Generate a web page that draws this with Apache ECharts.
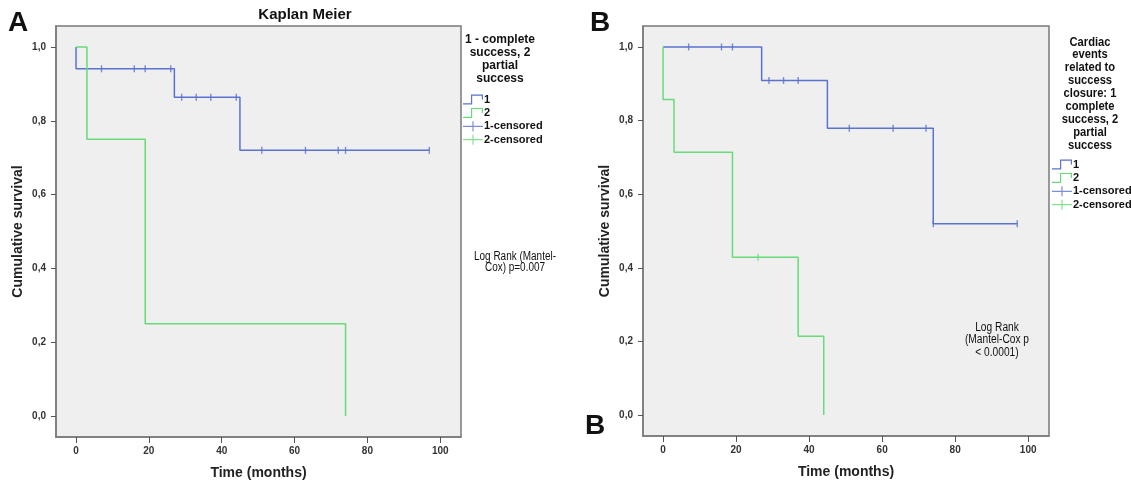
<!DOCTYPE html>
<html><head><meta charset="utf-8">
<script src="https://cdn.jsdelivr.net/npm/echarts@6/dist/echarts.min.js"></script>
<style>html,body{margin:0;padding:0;background:#fff}#c{width:1131px;height:486px}</style>
</head><body><div id="c"></div>
<script>
// ---------- Data ----------
const xTicks = [0, 20, 40, 60, 80, 100];
const yTicks = [0, 0.2, 0.4, 0.6, 0.8, 1.0];
const seriesNames = ['1', '2', '1-censored', '2-censored'];

// Panel A (Kaplan Meier) - group 1 steps
const a1Time = [0, 0, 27, 45, 97];
const a1Surv = [1, 0.941, 0.864, 0.72, 0.72];
// Panel A - group 2 steps
const a2Time = [0, 3, 19, 74];
const a2Surv = [1, 0.75, 0.25, 0];
// Panel A - censored marks group 1
const a1CensTime = [7, 16, 19, 26, 29, 33, 37, 44, 51, 63, 72, 74, 97];
const a1CensSurv = [0.941, 0.941, 0.941, 0.941, 0.864, 0.864, 0.864, 0.864, 0.72, 0.72, 0.72, 0.72, 0.72];

// Panel B - group 1 steps
const b1Time = [0, 27, 45, 74, 97];
const b1Surv = [1, 0.909, 0.779, 0.52, 0.52];
// Panel B - group 2 steps
const b2Time = [0, 0, 3, 19, 37, 44];
const b2Surv = [1, 0.857, 0.714, 0.429, 0.214, 0];
// Panel B - censored marks
const b1CensTime = [7, 16, 19, 29, 33, 37, 51, 63, 72, 74, 97];
const b1CensSurv = [1, 1, 1, 0.909, 0.909, 0.909, 0.779, 0.779, 0.779, 0.52, 0.52];
const b2CensTime = [26];
const b2CensSurv = [0.429];

// ---------- Helpers ----------
const zip = (t, s) => t.map((v, i) => [v, s[i]]);
const BLUE = '#5a72d0', GREEN = '#66db78';
const AX = '#7a7a7a';
const FONT = "'Liberation Sans', Arial, sans-serif";

function xAx(gi) {
  return {
    type: 'value', gridIndex: gi, min: -5.5, max: 105.7,
    name: 'Time (months)', nameLocation: 'middle', nameGap: 29,
    nameTextStyle: { fontFamily: FONT, fontWeight: 'bold', fontSize: 14, color: '#222' },
    splitLine: { show: false },
    axisLine: { show: true, onZero: false, lineStyle: { color: AX, width: 1.5 } },
    axisTick: { show: true, length: 6, customValues: xTicks, lineStyle: { color: '#555' } },
    axisLabel: { customValues: xTicks, margin: 9, fontFamily: FONT, fontWeight: 'bold', fontSize: 10, color: '#333' }
  };
}
function yAx(gi) {
  return {
    type: 'value', gridIndex: gi, min: -0.057, max: 1.057,
    name: 'Cumulative survival', nameLocation: 'middle', nameGap: 31,
    nameTextStyle: { fontFamily: FONT, fontWeight: 'bold', fontSize: 14, color: '#222' },
    splitLine: { show: false },
    axisLine: { show: true, onZero: false, lineStyle: { color: AX, width: 1.5 } },
    axisTick: { show: true, length: 5, customValues: yTicks, lineStyle: { color: '#555' } },
    axisLabel: { customValues: yTicks, margin: 10, fontFamily: FONT, fontWeight: 'bold', fontSize: 10, color: '#333',
      formatter: v => v.toFixed(1).replace('.', ',') }
  };
}
function stepSeries(name, data, color, gi) {
  return { name, type: 'line', step: 'end', data, xAxisIndex: gi, yAxisIndex: gi,
    showSymbol: false, symbol: 'none', lineStyle: { color, width: 1.5 }, itemStyle: { color }, animation: false, z: 3 };
}
function censSeries(name, data, color, gi) {
  return { name, type: 'scatter', data, xAxisIndex: gi, yAxisIndex: gi,
    symbol: 'rect', symbolSize: [1.4, 7], itemStyle: { color }, animation: false, z: 4 };
}
const stepIcon = 'path://M0,8.8 H8 V0 H20 V5 H18.8 V1.2 H9.2 V10 H0 Z';
const plusIcon = 'path://M0,4.4 H20 V5.6 H0 Z M9.4,0 H10.6 V10 H9.4 Z';
function legend(left, top) {
  return {
    orient: 'vertical', left, top, padding: 0, itemWidth: 20, itemHeight: 10, itemGap: 2.4,
    textStyle: { fontFamily: FONT, fontWeight: 'bold', fontSize: 11, color: '#111', padding: [0, 0, 0, -4] },
    selectedMode: false,
    data: [
      { name: '1', icon: stepIcon }, { name: '2', icon: stepIcon },
      { name: '1-censored', icon: plusIcon }, { name: '2-censored', icon: plusIcon }
    ]
  };
}
function txt(text, x, y, font, lh, sx) {
  return { type: 'text', x, y, scaleX: sx || 1,
    style: { text, font, fill: '#111', textAlign: 'center', textVerticalAlign: 'top', lineHeight: lh } };
}

const option = {
  backgroundColor: '#fff',
  animation: false,
  grid: [
    { left: 56, top: 26, width: 405, height: 411, show: true, backgroundColor: '#efefef', borderColor: AX, borderWidth: 1.5 },
    { left: 643, top: 26, width: 406, height: 410, show: true, backgroundColor: '#efefef', borderColor: AX, borderWidth: 1.5 }
  ],
  xAxis: [xAx(0), xAx(1)],
  yAxis: [yAx(0), yAx(1)],
  legend: [legend(463, 94), legend(1052, 159)],
  series: [
    stepSeries('1', zip(a1Time, a1Surv), BLUE, 0),
    stepSeries('2', zip(a2Time, a2Surv), GREEN, 0),
    censSeries('1-censored', zip(a1CensTime, a1CensSurv), BLUE, 0),
    censSeries('2-censored', [], GREEN, 0),
    stepSeries('1', zip(b1Time, b1Surv), BLUE, 1),
    stepSeries('2', zip(b2Time, b2Surv), GREEN, 1),
    censSeries('1-censored', zip(b1CensTime, b1CensSurv), BLUE, 1),
    censSeries('2-censored', zip(b2CensTime, b2CensSurv), GREEN, 1)
  ],
  graphic: [
    txt('A', 18, 8, "bold 28px 'Liberation Sans', Arial, sans-serif", 30),
    txt('B', 600, 8, "bold 28px 'Liberation Sans', Arial, sans-serif", 30),
    txt('B', 595, 411, "bold 28px 'Liberation Sans', Arial, sans-serif", 30),
    txt('Kaplan Meier', 305, 6, "bold 15px 'Liberation Sans', Arial, sans-serif", 18),
    txt('1 - complete\nsuccess, 2\npartial\nsuccess', 500, 33, "bold 12px 'Liberation Sans', Arial, sans-serif", 13),
    txt('Cardiac\nevents\nrelated to\nsuccess\nclosure: 1\ncomplete\nsuccess, 2\npartial\nsuccess', 1090, 35.5, "bold 13px 'Liberation Sans', Arial, sans-serif", 12.9, 0.86),
    txt('Log Rank (Mantel-\nCox) p=0.007', 515, 251, "12px 'Liberation Sans', Arial, sans-serif", 11, 0.83),
    txt('Log Rank\n(Mantel-Cox p\n< 0.0001)', 997, 321, "12px 'Liberation Sans', Arial, sans-serif", 12.5, 0.85)
  ]
};
const chart = echarts.init(document.getElementById('c'), null, { renderer: 'canvas' });
chart.setOption(option);
</script></body></html>
